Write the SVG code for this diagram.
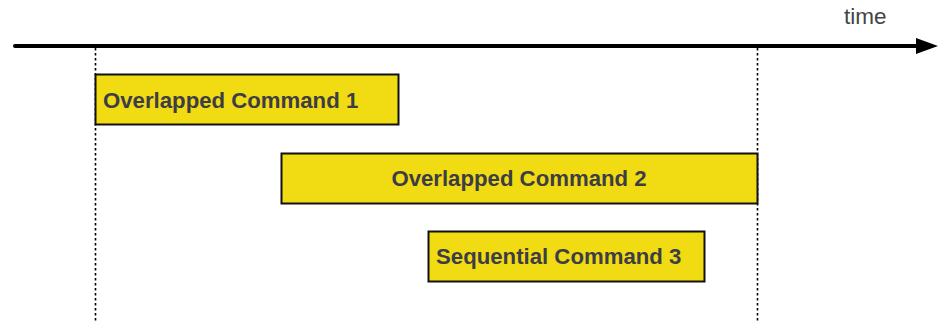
<svg xmlns="http://www.w3.org/2000/svg" width="939" height="323" viewBox="0 0 939 323">
<style>
.box{fill:#f1db13;stroke:#111;stroke-width:2}
.lbl{font-family:"Liberation Sans",Arial,sans-serif;font-weight:bold;font-size:22.2px;fill:#3d3d45}
.dot{stroke:#000;stroke-width:1.6;stroke-dasharray:2.5,2.5;fill:none}
</style>
<rect width="939" height="323" fill="#fff"/>
<g id="connectors">
<line class="dot" x1="95.5" y1="48" x2="95.5" y2="323"/>
<line class="dot" x1="757.5" y1="48" x2="757.5" y2="323"/>
<line x1="15" y1="46" x2="918" y2="46" stroke="#000" stroke-width="4" stroke-linecap="round"/>
<polygon points="916,38 938,46 916,54" fill="#000"/>
</g>
<g id="time"><text x="844" y="24" style="font-family:'Liberation Sans',Arial,sans-serif;font-size:22.5px;fill:#444">time</text></g>
<g id="cmd1"><rect class="box" x="95.5" y="74.5" width="303" height="50"/><text class="lbl" x="103" y="107.5">Overlapped Command 1</text></g>
<g id="cmd2"><rect class="box" x="281.5" y="153.5" width="476" height="50"/><text class="lbl" x="519" y="186" text-anchor="middle">Overlapped Command 2</text></g>
<g id="cmd3"><rect class="box" x="428.5" y="231.5" width="276" height="50"/><text class="lbl" x="436" y="263.5">Sequential Command 3</text></g>
</svg>
